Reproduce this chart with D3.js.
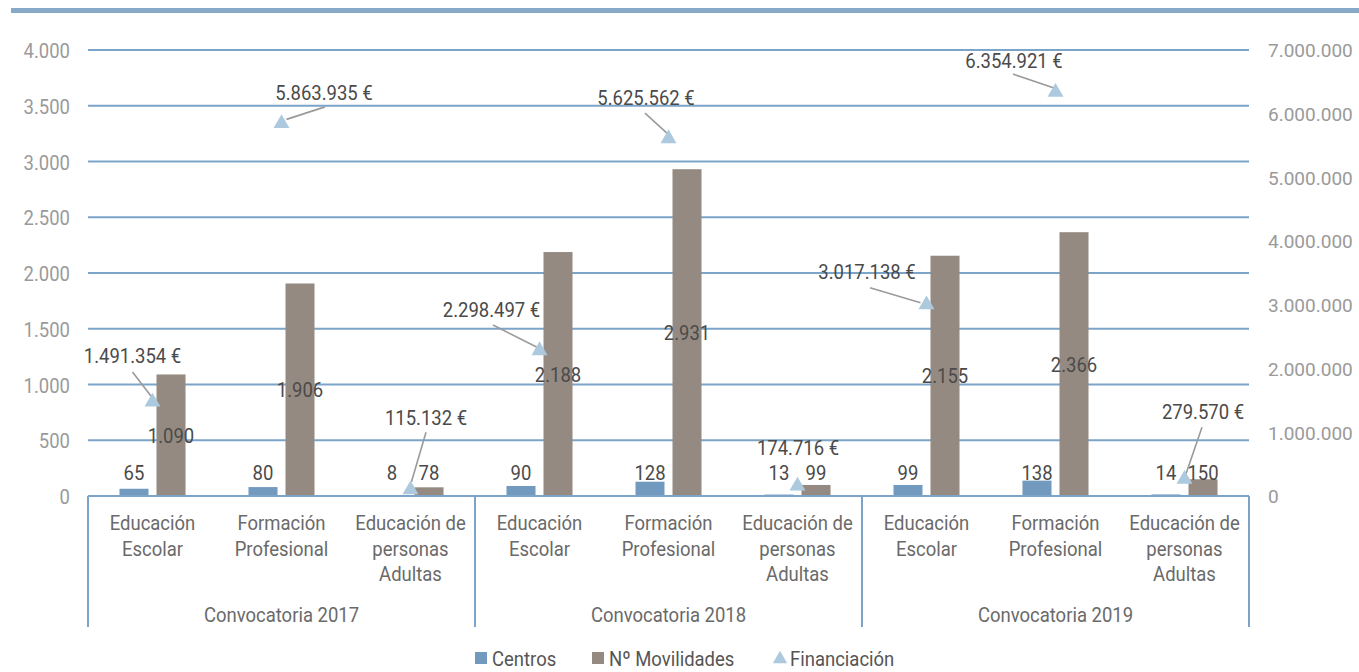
<!DOCTYPE html>
<html><head><meta charset="utf-8">
<script src="https://cdn.jsdelivr.net/npm/d3@7"></script>
<style>
body{margin:0;background:#fff}
text{font-family:"Liberation Sans Narrow","Arial Narrow","Roboto",sans-serif}
</style>
</head><body>
<svg id="c" width="1359" height="672"></svg>
<script>
// ---------------- data ----------------
const groups = ["Convocatoria 2017", "Convocatoria 2018", "Convocatoria 2019"];
const sectorLines = [["Educación", "Escolar"], ["Formación", "Profesional"], ["Educación de", "personas", "Adultas"]];
const centros = [65, 80, 8, 90, 128, 13, 99, 138, 14];
const movilidades = [1090, 1906, 78, 2188, 2931, 99, 2155, 2366, 150];
const financiacion = [1491354, 5863935, 115132, 2298497, 5625562, 174716, 3017138, 6354921, 279570];
const leftTicks = [0, 500, 1000, 1500, 2000, 2500, 3000, 3500, 4000];
const rightTicks = [0, 1000000, 2000000, 3000000, 4000000, 5000000, 6000000, 7000000];
const seriesNames = ["Centros", "Nº Movilidades", "Financiación"];

// ---------------- layout ----------------
// annotation offsets for Financiación labels (relative to marker): [labelDx, labelDy, lineStartDx, lineStartDy, lineEndDx, lineEndDy]
const finLabelLayout = [
  [-20, -46, -20, -29, 0, -3],
  [42.5, -29.5, 43.5, -15.5, 5, -3],
  [15.5, -71.5, 15.5, -56.5, 1, -7],
  [-48, -40.5, -46.5, -24.5, 2, 0],
  [-22.5, -40.5, -23.5, -24.5, 0, -3],
  [0.5, -37, null, null, null, null],
  [-59.5, -32, -56.5, -16, -6, -1],
  [-41.5, -31, -42.5, -17, 1.5, -2],
  [18.5, -67, 17.5, -51, 1, -3]
];

const W = 1359, H = 672;
const plot = {left: 88, right: 1249, top: 50, bottom: 496};
const C = {
  grid: "#7ca4c9", centros: "#729abf", movil: "#958a81", fin: "#adc9de",
  tick: "#9a9a9a", label: "#4a4a4a", cat: "#6a6a6a", leader: "#9a9a9a", stripe: "#87aac9"
};
const NARROW = 0.88;
function condense(sel) {
  sel.each(function () {
    const w = this.getComputedTextLength();
    d3.select(this).attr("textLength", w * NARROW).attr("lengthAdjust", "spacingAndGlyphs");
  });
}

const locale = d3.formatLocale({decimal: ",", thousands: ".", grouping: [3], currency: ["", " €"]});
const fmt = locale.format(",d");

const svg = d3.select("#c");

// top stripe
svg.append("rect").attr("x", 11).attr("y", 8).attr("width", W - 11).attr("height", 5).attr("fill", C.stripe);

const cats = d3.range(centros.length);
const x0 = d3.scaleBand().domain(cats).range([plot.left, plot.right]).padding(0);
const x1 = d3.scaleBand().domain(["c", "m"]).range([0, x0.bandwidth()]).paddingInner(0.216).paddingOuter(0.851);
const yL = d3.scaleLinear().domain([0, 4000]).range([plot.bottom, plot.top]);
const yR = d3.scaleLinear().domain([0, 7000000]).range([plot.bottom, plot.top]);

// gridlines
svg.append("g").selectAll("line").data(leftTicks).join("line")
  .attr("x1", plot.left).attr("x2", plot.right)
  .attr("y1", d => yL(d)).attr("y2", d => yL(d))
  .attr("stroke", C.grid).attr("stroke-width", 2);

// left axis
const axL = svg.append("g").attr("transform", `translate(${plot.left},0)`)
  .call(d3.axisLeft(yL).tickValues(leftTicks).tickFormat(fmt).tickSize(0).tickPadding(18));
axL.select(".domain").remove();
axL.selectAll("text").attr("fill", C.tick).style("font-size", "21px").attr("dy", "0.36em").call(condense);

// right axis
const axR = svg.append("g").attr("transform", `translate(${plot.right},0)`)
  .call(d3.axisRight(yR).tickValues(rightTicks).tickFormat(fmt).tickSize(0).tickPadding(19));
axR.select(".domain").remove();
axR.selectAll("text").attr("fill", C.tick).style("font-size", "19px").attr("dy", "0.36em");

// bars
const y0 = yL(0);
svg.append("g").selectAll("rect").data(cats).join("rect")
  .attr("x", i => x0(i) + x1("c")).attr("width", x1.bandwidth())
  .attr("y", i => yL(centros[i])).attr("height", i => y0 - yL(centros[i]))
  .attr("fill", C.centros);
svg.append("g").selectAll("rect").data(cats).join("rect")
  .attr("x", i => x0(i) + x1("m")).attr("width", x1.bandwidth())
  .attr("y", i => yL(movilidades[i])).attr("height", i => y0 - yL(movilidades[i]))
  .attr("fill", C.movil);

// category frame
svg.append("line").attr("x1", plot.left).attr("x2", plot.right).attr("y1", y0).attr("y2", y0)
  .attr("stroke", C.grid).attr("stroke-width", 2);
const gBounds = d3.range(groups.length + 1).map(g => plot.left + g * 3 * x0.step());
svg.append("g").selectAll("line").data(gBounds).join("line")
  .attr("x1", d => d).attr("x2", d => d).attr("y1", y0).attr("y2", 627)
  .attr("stroke", C.grid).attr("stroke-width", 2);

// category labels
const catG = svg.append("g");
cats.forEach(i => {
  const lines = sectorLines[i % 3];
  lines.forEach((l, k) => {
    catG.append("text").attr("text-anchor", "middle").attr("fill", C.cat).style("font-size", "21px")
      .attr("x", x0(i) + x0.bandwidth() / 2).attr("y", 530 + k * 25.5).text(l).call(condense);
  });
});
svg.append("g").selectAll("text").data(groups).join("text")
  .attr("x", (d, g) => (gBounds[g] + gBounds[g + 1]) / 2).attr("y", 622)
  .attr("text-anchor", "middle").attr("fill", C.cat).style("font-size", "21px").text(d => d).call(condense);

// value labels
svg.append("g").selectAll("text").data(cats).join("text")
  .attr("x", i => x0(i) + x1("c") + x1.bandwidth() / 2)
  .attr("y", i => Math.min(yL(centros[i]) - 1, y0 - 16))
  .attr("text-anchor", "middle").attr("fill", C.label).style("font-size", "21px")
  .text(i => fmt(centros[i])).call(condense);
svg.append("g").selectAll("text").data(cats).join("text")
  .attr("x", i => x0(i) + x1("m") + x1.bandwidth() / 2)
  .attr("y", i => {
    const top = yL(movilidades[i]);
    return (y0 - top) > 60 ? (top + y0) / 2 + 7.5 : y0 - 16;
  })
  .attr("text-anchor", "middle").attr("fill", C.label).style("font-size", "21px")
  .text(i => fmt(movilidades[i])).call(condense);

// financiación markers
const tri = d3.symbol().type(d3.symbolTriangle).size(110);
const fx = i => x0(i) + x0.bandwidth() / 2;
const fy = i => yR(financiacion[i]);
const annG = svg.append("g");
cats.forEach(i => {
  const L = finLabelLayout[i];
  if (L[2] !== null) {
    annG.append("line")
      .attr("x1", fx(i) + L[2]).attr("y1", fy(i) + L[3])
      .attr("x2", fx(i) + L[4]).attr("y2", fy(i) + L[5])
      .attr("stroke", C.leader).attr("stroke-width", 1.6);
  }
});
svg.append("g").selectAll("path").data(cats).join("path")
  .attr("d", tri).attr("transform", i => `translate(${fx(i)},${fy(i) + 1})`)
  .attr("fill", C.fin);
const annT = svg.append("g");
cats.forEach(i => {
  const L = finLabelLayout[i];
  annT.append("text").attr("x", fx(i) + L[0]).attr("y", fy(i) + L[1]).attr("dy", "0.36em")
    .attr("text-anchor", "middle").attr("fill", C.label).style("font-size", "21px")
    .text(fmt(financiacion[i]) + " €").call(condense);
});

// legend
const leg = svg.append("g").attr("transform", "translate(0,657)");
const legItems = [
  {name: seriesNames[0], x: 475, type: "rect", color: C.centros},
  {name: seriesNames[1], x: 592, type: "rect", color: C.movil},
  {name: seriesNames[2], x: 773, type: "tri", color: C.fin}
];
legItems.forEach(it => {
  if (it.type === "rect") {
    leg.append("rect").attr("x", it.x).attr("y", -5).attr("width", 12).attr("height", 12).attr("fill", it.color);
  } else {
    leg.append("path").attr("d", d3.symbol().type(d3.symbolTriangle).size(90)).attr("transform", `translate(${it.x + 7},2)`).attr("fill", it.color);
  }
  leg.append("text").attr("x", it.x + 17).attr("y", 1).attr("dy", "0.36em")
    .attr("fill", "#555").style("font-size", "21px").text(it.name).call(condense);
});
</script>
</body></html>
